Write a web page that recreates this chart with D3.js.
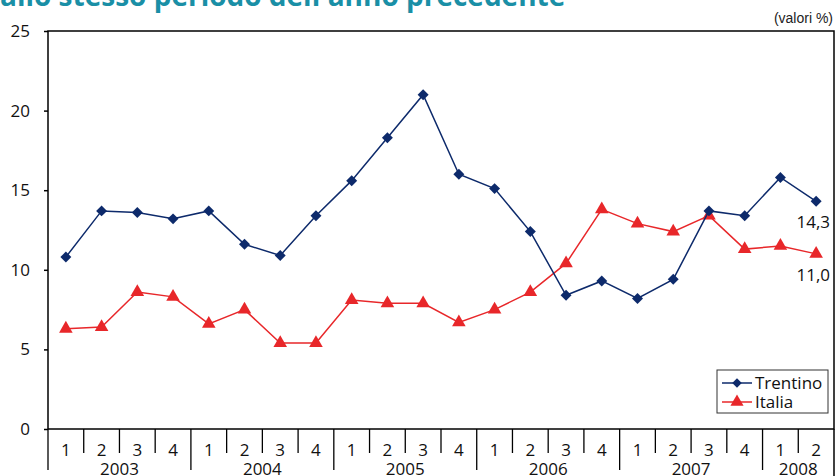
<!DOCTYPE html>
<html>
<head>
<meta charset="utf-8">
<script src="https://cdn.jsdelivr.net/npm/d3@7"></script>
<style>
  body { margin: 0; background: #fff; }
  svg { display: block; font-family: "Open Sans", "Noto Sans", sans-serif; }
</style>
</head>
<body>
<svg id="chart" width="836" height="476"></svg>
<script>
// quarters and years
var years = ["2003", "2004", "2005", "2006", "2007", "2008"];
var quarters = ["1", "2", "3", "4"];
var periods = [];
years.forEach(function (y) {
  quarters.forEach(function (q) {
    if (y == "2008" && +q > 2) return;
    periods.push(y + "-" + q);
  });
});

// series values (%)
var trentino = [10.8, 13.7, 13.6, 13.2, 13.7, 11.6, 10.9, 13.4, 15.6, 18.3, 21.0, 16.0,
                15.1, 12.4, 8.4, 9.3, 8.2, 9.4, 13.7, 13.4, 15.8, 14.3];
var italia = [6.3, 6.4, 8.6, 8.3, 6.6, 7.5, 5.4, 5.4, 8.1, 7.9, 7.9, 6.7,
              7.5, 8.6, 10.4, 13.8, 12.9, 12.4, 13.4, 11.3, 11.5, 11.0];
var yTicks = [0, 5, 10, 15, 20, 25];

var svg = d3.select("#chart");
var plotLeft = 48, plotRight = 834, plotTop = 31, plotBottom = 429;

var x = d3.scaleBand().domain(periods).range([plotLeft, plotRight]).padding(0);
var y = d3.scaleLinear().domain([0, 25]).range([plotBottom, plotTop]);

var navy = "#0d2a6b", red = "#e8272a";

// title (cut off at the top)
svg.append("text")
  .attr("x", 0).attr("y", 6)
  .attr("font-size", 28).attr("font-weight", "bold")
  .attr("fill", "#1a8fa6")
  .text("allo stesso periodo dell'anno precedente");

svg.append("text")
  .attr("x", 833).attr("y", 23)
  .attr("text-anchor", "end")
  .attr("font-size", 14).attr("fill", "#222")
  .attr("font-family", "Liberation Sans Narrow, sans-serif")
  .text("(valori %)");

// frame
svg.append("rect")
  .attr("x", plotLeft).attr("y", plotTop)
  .attr("width", plotRight - plotLeft).attr("height", plotBottom - plotTop)
  .attr("fill", "none").attr("stroke", "#000").attr("stroke-width", 1.5);

// y axis
var yAxis = svg.append("g")
  .attr("transform", "translate(" + plotLeft + ",0)")
  .call(d3.axisLeft(y).tickValues(yTicks).tickSize(4).tickPadding(14));
yAxis.select(".domain").remove();
yAxis.selectAll("text").attr("font-size", 17).attr("fill", "#111")
  .attr("font-family", "Open Sans, sans-serif");
yAxis.selectAll("line").attr("stroke-width", 1.5);

// x axis: quarter separators and labels
var xg = svg.append("g");
periods.forEach(function (p, i) {
  var q = p.split("-")[1];
  var x0 = x(p);
  var long = q == "1";
  xg.append("line")
    .attr("x1", x0).attr("x2", x0)
    .attr("y1", plotBottom).attr("y2", long ? 470 : 453)
    .attr("stroke", "#000").attr("stroke-width", 1.3);
  xg.append("text")
    .attr("x", x0 + x.bandwidth() / 2).attr("y", 456)
    .attr("text-anchor", "middle").attr("font-size", 17).attr("fill", "#111")
    .text(q);
});
xg.append("line")
  .attr("x1", plotRight).attr("x2", plotRight)
  .attr("y1", plotBottom).attr("y2", 476)
  .attr("stroke", "#000").attr("stroke-width", 1.5);
years.forEach(function (yr) {
  var ps = periods.filter(function (p) { return p.indexOf(yr) == 0; });
  var cx = (x(ps[0]) + x(ps[ps.length - 1]) + x.bandwidth()) / 2;
  xg.append("text")
    .attr("x", cx).attr("y", 475)
    .attr("text-anchor", "middle").attr("font-size", 17).attr("fill", "#111")
    .text(yr);
});

var cxOf = function (d, i) { return x(periods[i]) + x.bandwidth() / 2; };
var line = d3.line().x(cxOf).y(function (d) { return y(d); });

// Italia
svg.append("path").datum(italia)
  .attr("d", line).attr("fill", "none").attr("stroke", red).attr("stroke-width", 1.5);
svg.append("g").selectAll("path").data(italia).enter().append("path")
  .attr("d", d3.symbol().type(d3.symbolTriangle).size(80))
  .attr("transform", function (d, i) { return "translate(" + cxOf(d, i) + "," + y(d) + ")"; })
  .attr("fill", red);

// Trentino
svg.append("path").datum(trentino)
  .attr("d", line).attr("fill", "none").attr("stroke", navy).attr("stroke-width", 1.5);
svg.append("g").selectAll("path").data(trentino).enter().append("path")
  .attr("d", d3.symbol().type(d3.symbolSquare).size(60))
  .attr("transform", function (d, i) { return "translate(" + cxOf(d, i) + "," + y(d) + ") rotate(45)"; })
  .attr("fill", navy);

// end labels
var fmt = function (v) { return v.toFixed(1).replace(".", ","); };
var last = periods.length - 1;
svg.append("text")
  .attr("x", 830).attr("y", y(trentino[last]) + 27)
  .attr("text-anchor", "end").attr("font-size", 17).attr("fill", "#111")
  .text(fmt(trentino[last]));
svg.append("text")
  .attr("x", 830).attr("y", y(italia[last]) + 27)
  .attr("text-anchor", "end").attr("font-size", 17).attr("fill", "#111")
  .text(fmt(italia[last]));

// legend
var lg = svg.append("g").attr("transform", "translate(717,370)");
lg.append("rect").attr("width", 111).attr("height", 43)
  .attr("fill", "#fff").attr("stroke", "#333").attr("stroke-width", 1);
[["Trentino", navy, d3.symbolSquare, 45, 45], ["Italia", red, d3.symbolTriangle, 75, 0]]
  .forEach(function (s, i) {
    var yy = 13 + i * 19;
    lg.append("line").attr("x1", 5).attr("x2", 35).attr("y1", yy).attr("y2", yy)
      .attr("stroke", s[1]).attr("stroke-width", 1.5);
    lg.append("path")
      .attr("d", d3.symbol().type(s[2]).size(s[3]))
      .attr("transform", "translate(20," + yy + ") rotate(" + s[4] + ")")
      .attr("fill", s[1]);
    lg.append("text").attr("x", 38).attr("y", yy + 6)
      .attr("font-size", 17).attr("fill", "#111").text(s[0]);
  });
</script>
</body>
</html>
